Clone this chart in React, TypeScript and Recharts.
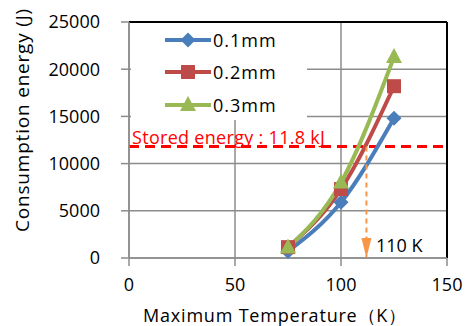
import {
  LineChart,
  Line,
  XAxis,
  YAxis,
  CartesianGrid,
  ReferenceLine,
  ReferenceDot,
} from "recharts"

const temperatures = [75, 100, 125]
const energy01 = [700, 5900, 14800]
const energy02 = [1150, 7300, 18200]
const energy03 = [1100, 8000, 21300]
const seriesNames = ["0.1mm", "0.2mm", "0.3mm"]
const seriesColors = ["#4a7ebb", "#be4b48", "#98b954"]
const xTicks = [0, 50, 100, 150]
const yTicks = [0, 5000, 10000, 15000, 20000, 25000]
const storedEnergy = 11800
const crossTemp = 112

const FONT = "'Open Sans', 'Noto Sans', sans-serif"

const toPoints = (values: number[]) =>
  temperatures.map((t, i) => ({ x: t, y: values[i] }))

const series = [energy01, energy02, energy03].map((values, i) => ({
  name: seriesNames[i],
  color: seriesColors[i],
  data: toPoints(values),
}))

function Marker({ kind, cx, cy, fill }: { kind: number; cx: number; cy: number; fill: string }) {
  if (kind === 0) {
    return <path d={`M${cx},${cy - 7.5}L${cx + 7.5},${cy}L${cx},${cy + 7.5}L${cx - 7.5},${cy}Z`} fill={fill} />
  }
  if (kind === 1) {
    return <rect x={cx - 7} y={cy - 7} width={14} height={14} fill={fill} />
  }
  return <path d={`M${cx},${cy - 9}L${cx + 8},${cy + 6}L${cx - 8},${cy + 6}Z`} fill={fill} />
}

function LegendBox() {
  const rows = [17, 49, 82]
  return (
    <div
      style={{
        position: "absolute",
        left: 131,
        top: 23,
        width: 176,
        height: 97,
        background: "#fff",
      }}
    >
      <svg width={176} height={97}>
        {series.map((s, i) => (
          <g key={s.name}>
            <line x1={34} x2={80} y1={rows[i]} y2={rows[i]} stroke={s.color} strokeWidth={4} />
            <Marker kind={i} cx={57} cy={rows[i]} fill={s.color} />
            <text
              x={82}
              y={rows[i] + 6.5}
              fontSize={18}
              fontFamily={FONT}
              letterSpacing={1}
              fill="#000"
            >
              {s.name}
            </text>
          </g>
        ))}
      </svg>
    </div>
  )
}

export default function App() {
  return (
    <div style={{ position: "absolute", left: 0, top: 0, width: 466, height: 326, background: "#fff" }}>
      <LineChart
        width={466}
        height={326}
        margin={{ top: 22, right: 19, bottom: 0, left: 0 }}
        style={{ fontFamily: FONT }}
      >
        <CartesianGrid stroke="#8c8c8c" strokeWidth={1.5} />
        <XAxis
          type="number"
          dataKey="x"
          domain={[0, 150]}
          ticks={xTicks}
          height={68}
          allowDataOverflow
          stroke="#8c8c8c"
          strokeWidth={1.5}
          tickSize={8}
          tickMargin={12}
          tick={{ fill: "#000", fontSize: 18, fontFamily: FONT }}
          label={{
            content: () => (
              <text x={275} y={322} textAnchor="middle" fontSize={18} fontFamily={FONT} letterSpacing={0.8} fill="#000">
                Maximum Temperature（K）
              </text>
            ),
          }}
        />
        <YAxis
          type="number"
          dataKey="y"
          domain={[0, 25000]}
          ticks={yTicks}
          width={129}
          stroke="#8c8c8c"
          strokeWidth={1.5}
          tickSize={8}
          tickMargin={21}
          tick={{ fill: "#000", fontSize: 18, fontFamily: FONT }}
          label={{
            content: () => (
              <text
                x={29}
                y={120}
                textAnchor="middle"
                fontSize={19}
                fontFamily={FONT}
                letterSpacing={0.8}
                fill="#000"
                transform="rotate(-90 29 120)"
              >
                Consumption energy (J)
              </text>
            ),
          }}
        />
        <ReferenceLine y={25000} stroke="#000" strokeWidth={2} />
        <ReferenceLine x={150} stroke="#000" strokeWidth={2} />
        <ReferenceLine
          y={storedEnergy}
          stroke="#ff0000"
          strokeWidth={3}
          strokeDasharray="10 6"
          label={{
            content: () => (
              <text x={132} y={144} fontSize={18} fontFamily={FONT} letterSpacing={0.3} fill="#ff0000">
                Stored energy : 11.8 kJ
              </text>
            ),
          }}
        />
        {series.map((s, i) => (
          <Line
            key={s.name}
            data={s.data}
            dataKey="y"
            name={s.name}
            type="monotone"
            stroke={s.color}
            strokeWidth={4}
            isAnimationActive={false}
            dot={(p: any) => (
              <Marker key={`${s.name}-${p.index}`} kind={i} cx={p.cx} cy={p.cy} fill={s.color} />
            )}
            activeDot={false}
          />
        ))}
        <ReferenceLine
          segment={[
            { x: crossTemp, y: storedEnergy },
            { x: crossTemp, y: 0 },
          ]}
          stroke="#f79646"
          strokeWidth={2}
          strokeDasharray="5 4"
          label={{
            content: () => (
              <text x={376} y={252} fontSize={18} fontFamily={FONT} fill="#000">
                110 K
              </text>
            ),
          }}
        />
        <ReferenceDot
          x={crossTemp}
          y={0}
          shape={(p: any) => (
            <path d={`M${p.cx},${p.cy}L${p.cx + 5},${p.cy - 20}L${p.cx - 5},${p.cy - 20}Z`} fill="#f79646" />
          )}
        />
      </LineChart>
      <LegendBox />
    </div>
  )
}
